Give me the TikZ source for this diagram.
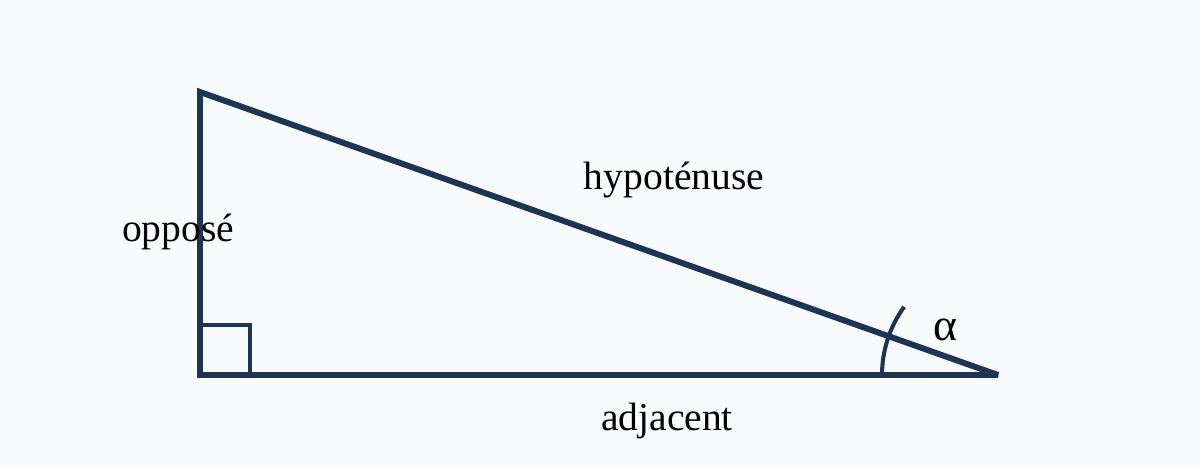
\documentclass[tikz,border=0pt]{standalone}
\usepackage{fontspec}
\setmainfont{Liberation Serif}
\usetikzlibrary{calc}
\definecolor{bgpage}{HTML}{F8FAFC}
\definecolor{navy}{HTML}{1B3553}
\tikzstyle{side} = [draw=navy, line width=3.4pt, line join=miter, miter limit=2]
\tikzstyle{anglemark} = [draw=navy, line width=2.3pt]
\tikzstyle{lbl} = [font=\fontsize{22.5}{27}\selectfont, text=black, inner sep=0pt]

\begin{document}
\begin{tikzpicture}[x=0.02cm,y=0.02cm]
  \fill[bgpage] (0,0) rectangle (1200,467);
  \useasboundingbox (0,0) rectangle (1200,467);

  \coordinate (A) at (200,375);
  \coordinate (C) at (200,92);
  \coordinate (B) at (998,92);

  \path[anglemark] (C) rectangle ++(50,50);
  \path[anglemark] ($(B)+(180:116)$) arc (180:144:116);
  \path[side] (A) -- (C) -- (B) -- cycle;

  \node[lbl] (hyp) at (674,287) {hypoténuse};
  \node[lbl] (opp) at (178,235) {opposé};
  \node[lbl] (adj) at (667,46) {adjacent};
  \node[lbl,font=\fontsize{26}{30}\selectfont] (alpha) at (945,137) {α};
\end{tikzpicture}
\end{document}
